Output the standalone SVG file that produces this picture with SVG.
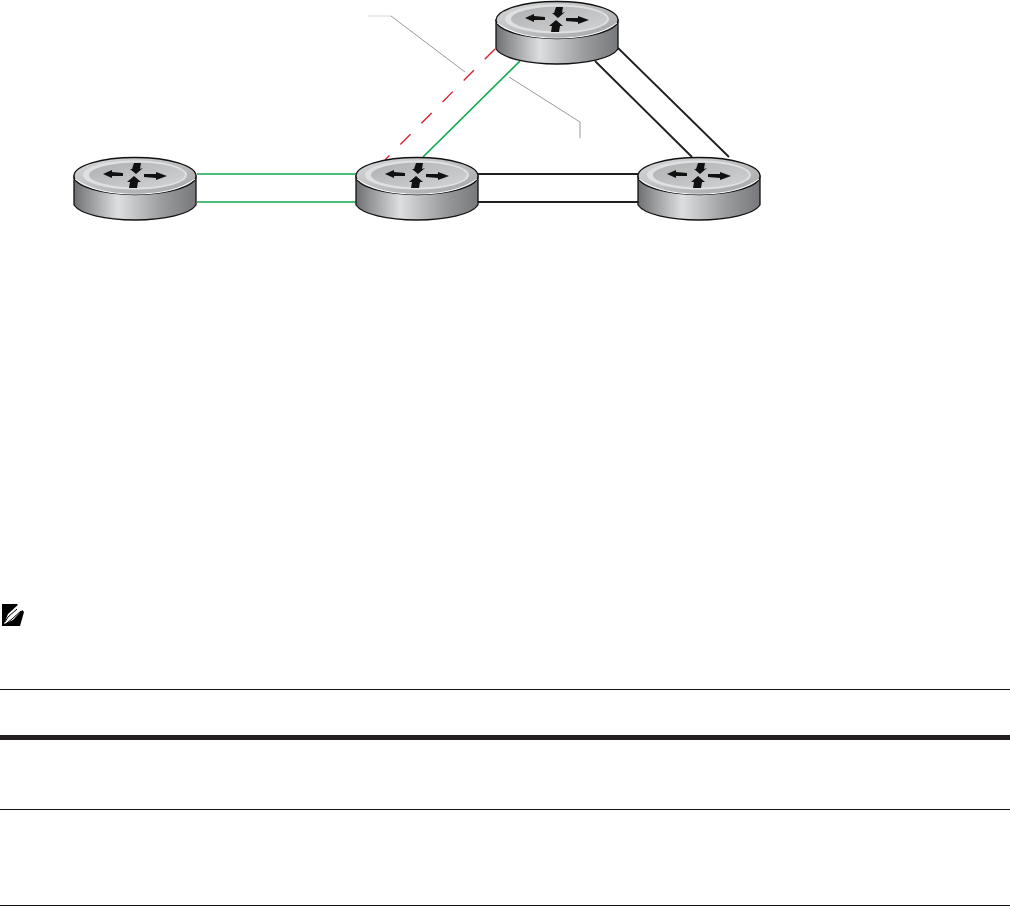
<svg xmlns="http://www.w3.org/2000/svg" width="1010" height="906" viewBox="0 0 1010 906">
<style>
.gr{stroke:#0fa94f;fill:none;stroke-width:1.7}
.bk{stroke:#231f20;fill:none;stroke-width:1.8}
.rd{stroke:#d9232e;fill:none;stroke-width:1.4;stroke-dasharray:14.5 15.5}
.ld{stroke:#6d6e71;fill:none;stroke-width:.7}
.rule{stroke:#111;stroke-width:1}
</style>
<defs>
<linearGradient id="side" x1="0" x2="1" y1="0" y2="0">
<stop offset="0" stop-color="#6d6e71"/><stop offset=".1" stop-color="#8f9092"/><stop offset=".36" stop-color="#dddee0"/><stop offset=".72" stop-color="#9b9c9e"/><stop offset="1" stop-color="#77787b"/>
</linearGradient>
<linearGradient id="top" x1="0" x2="1" y1="0" y2="1">
<stop offset="0" stop-color="#d8d9da"/><stop offset="1" stop-color="#a3a5a7"/>
</linearGradient>
<linearGradient id="disc" x1="0" x2="1" y1="0" y2="1">
<stop offset="0" stop-color="#aeb0b2"/><stop offset="1" stop-color="#d2d3d5"/>
</linearGradient>
<g id="router">
<path d="M-61 0V29C-55 38 -30 44 0 44C30 44 55 38 61 29V0Z" fill="url(#side)" stroke="#111" stroke-width="1.3"/>
<ellipse cx="0" cy="0" rx="61" ry="18.5" fill="url(#top)" stroke="#111" stroke-width="1.3"/>
<path d="M-60 3C-45 14 -25 18 0 18C25 18 45 14 60 3" fill="none" stroke="#fff" stroke-width="1"/>
<ellipse cx="0" cy="-1" rx="52" ry="14.500" fill="#dfe0e1"/>
<ellipse cx="2" cy="-1" rx="48" ry="12.500" fill="url(#disc)"/>
<path d="M-32 -2L-23 -6L-23 -4L-12 -3L-12 0L-23 0L-23 2Z" fill="#111"/>
<path d="M32 0L21 -4L21 -2L9 -2L9 1L21 2L21 4Z" fill="#111"/>
<path d="M1 -2L-5 -7L-3 -7L-1 -13L6 -13L5 -7L8 -8Z" fill="#111"/>
<path d="M-1 0L6 6L3 6L2 12L-6 12L-5 6L-8 6Z" fill="#111"/>
</g>
</defs>
<rect width="1010" height="906" fill="#fff"/>
<g id="connectors">
<path class="gr" d="M197 174H356M197 202H356M520 61L423 157"/>
<path class="bk" d="M478 174H638M478 202H638M595 61L692 157M618 48L729 157"/>
<path class="rd" d="M495 49L385 160"/>
<path d="M368 16H391" stroke="#d1d3d4" fill="none" stroke-width=".9"/>
<path class="ld" d="M391 16L465 72M509 77L580 122V138"/>
</g>
<g id="router-top"><use href="#router" x="557" y="20"/></g>
<g id="router-left"><use href="#router" x="135" y="176"/></g>
<g id="router-middle"><use href="#router" x="417" y="176"/></g>
<g id="router-right"><use href="#router" x="699" y="176"/></g>
<g id="note-icon">
<path d="M2 604H17L24 612L20 626H2Z" fill="#000"/>
<path d="M4 624L8 614L20 603L25 607L13 620Z" fill="#fff"/>
<path d="M5 622L8 617L17 609M7 623L12 619L21 611" stroke="#000" stroke-width="1" fill="none"/>
</g>
<g id="rules">
<path class="rule" d="M0 689.500H1010M0 809.500H1010M0 905.500H1010"/>
<rect x="0" y="735" width="1010" height="5" fill="#231f20"/>
</g>
</svg>
